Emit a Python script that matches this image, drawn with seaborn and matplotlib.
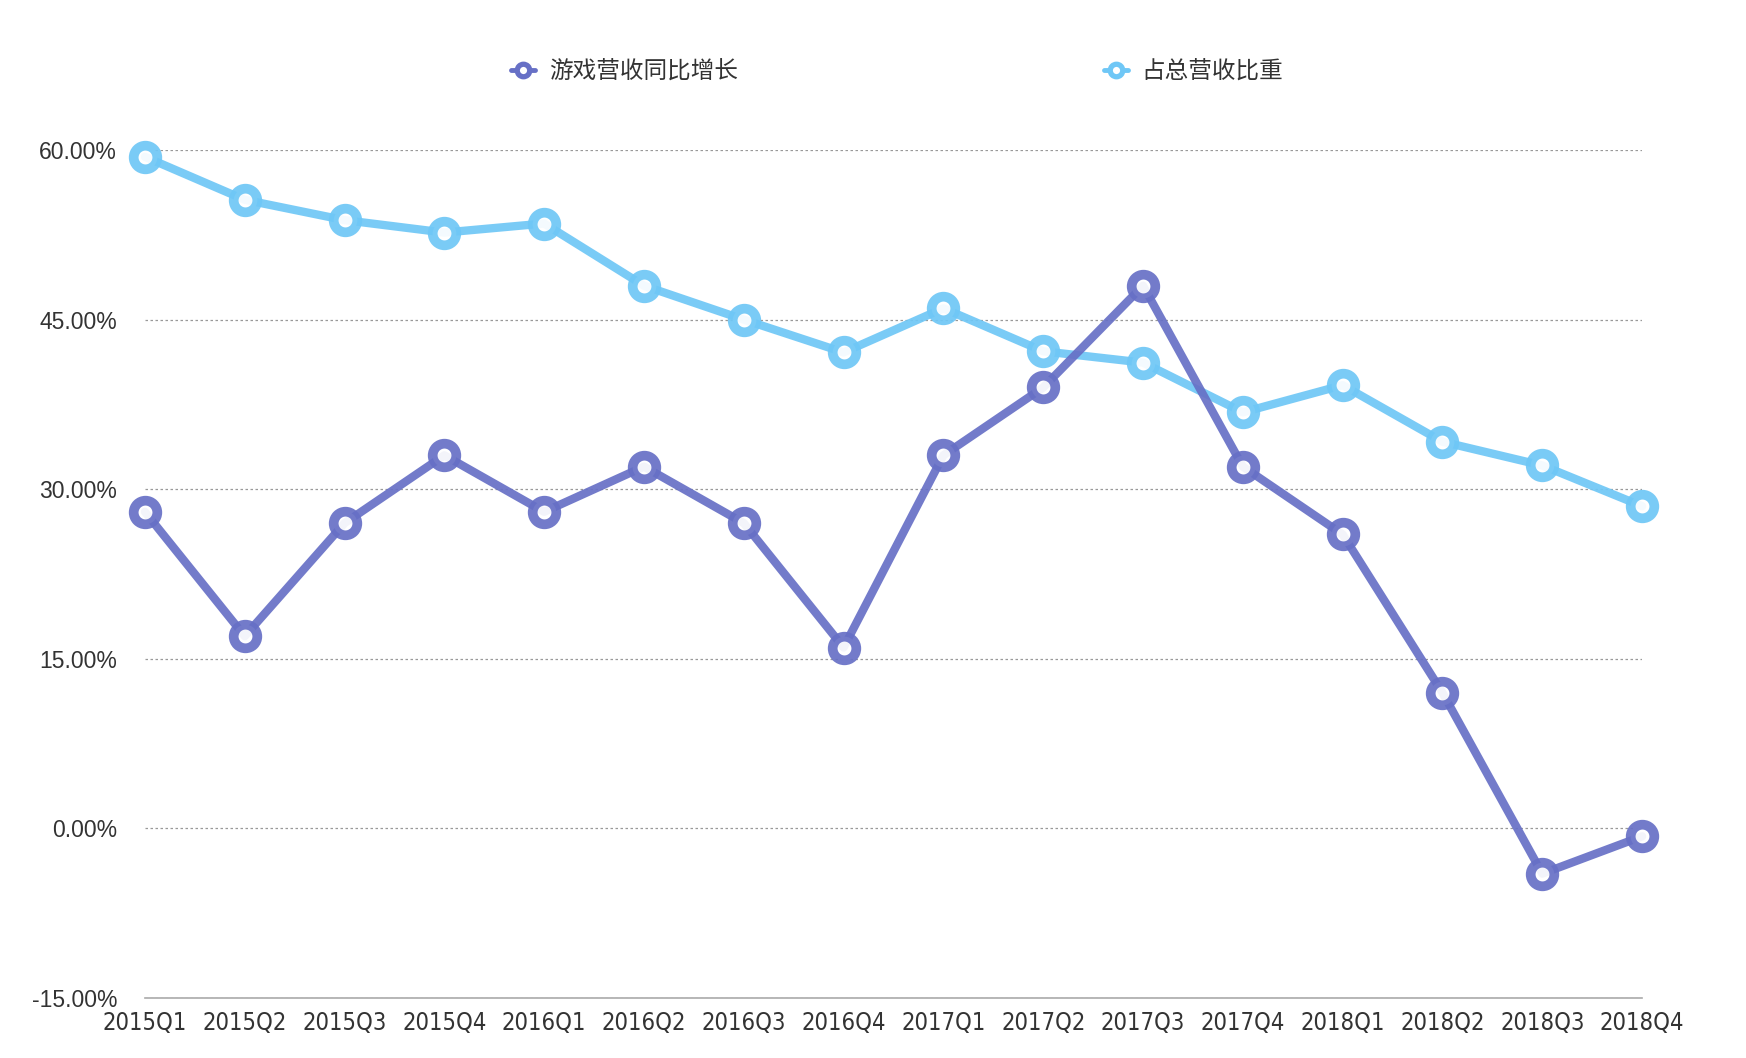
import pandas as pd
import seaborn as sns
import matplotlib.pyplot as plt
from matplotlib.ticker import FuncFormatter

# Data
quarters = ['2015Q1', '2015Q2', '2015Q3', '2015Q4', '2016Q1', '2016Q2', '2016Q3', '2016Q4',
            '2017Q1', '2017Q2', '2017Q3', '2017Q4', '2018Q1', '2018Q2', '2018Q3', '2018Q4']
game_yoy = [28.0, 17.0, 27.0, 33.0, 28.0, 32.0, 27.0, 16.0,
            33.0, 39.0, 48.0, 32.0, 26.0, 12.0, -4.0, -0.7]
share_of_total = [59.4, 55.6, 53.8, 52.7, 53.5, 48.0, 45.0, 42.1,
                  46.0, 42.2, 41.2, 36.8, 39.2, 34.2, 32.1, 28.5]
name_yoy = '游戏营收同比增长'
name_share = '占总营收比重'
colors = {name_yoy: '#6770c6', name_share: '#6fc7f6'}

df = pd.DataFrame({'idx': range(len(quarters)), 'quarter': quarters,
                   name_yoy: game_yoy, name_share: share_of_total})

sns.set_style('white')
plt.rcParams['font.family'] = ['Noto Sans CJK SC', 'DejaVu Sans']

fig = plt.figure(figsize=(17.46, 10.58), dpi=100)
ax = fig.add_axes([0.083, 0.0567, 0.8575, 0.8015])

# blue first so the purple line sits on top
for name in [name_share, name_yoy]:
    sns.lineplot(data=df, x='idx', y=name, color=colors[name],
                 marker='o', markersize=17, markerfacecolor='white',
                 markeredgecolor=colors[name], markeredgewidth=7,
                 linewidth=6, alpha=0.92, clip_on=False, ax=ax, zorder=3)

ax.set_xlim(0, len(quarters) - 1)
ax.set_ylim(-15, 60)
ax.set_yticks([-15, 0, 15, 30, 45, 60])
ax.yaxis.set_major_formatter(FuncFormatter(lambda v, p: f'{v:.2f}%'))
ax.set_xticks(range(len(quarters)))
ax.set_xticklabels(quarters, family='DejaVu Sans', fontstretch='condensed')
ax.set_xlabel('')
ax.set_ylabel('')

ax.grid(axis='y', linestyle=(0, (2, 2)), color='#999999', linewidth=0.9)
ax.grid(axis='x', visible=False)
for side in ['top', 'right', 'left']:
    ax.spines[side].set_visible(False)
ax.spines['bottom'].set_color('#aaaaaa')
ax.spines['bottom'].set_linewidth(1.2)
ax.tick_params(axis='y', length=0, pad=20, labelsize=16.5, labelcolor='#333333')
ax.tick_params(axis='x', length=0, pad=9, labelsize=17, labelcolor='#333333')
for lbl in ax.get_yticklabels():
    lbl.set_family(['Liberation Sans', 'DejaVu Sans'])

# Legend
handles = [plt.Line2D([], [], color=colors[n], marker='o', markersize=9,
                      markerfacecolor='white', markeredgewidth=3.8, linewidth=3.5)
           for n in [name_yoy, name_share]]
fig.legend(handles, [name_yoy, name_share], loc='center', ncol=2,
           bbox_to_anchor=(0.514, 0.932), frameon=False, fontsize=17,
           handlelength=1.0, handletextpad=0.6, columnspacing=15.5,
           labelcolor='#333333')

fig.savefig('out.png', dpi=100)
